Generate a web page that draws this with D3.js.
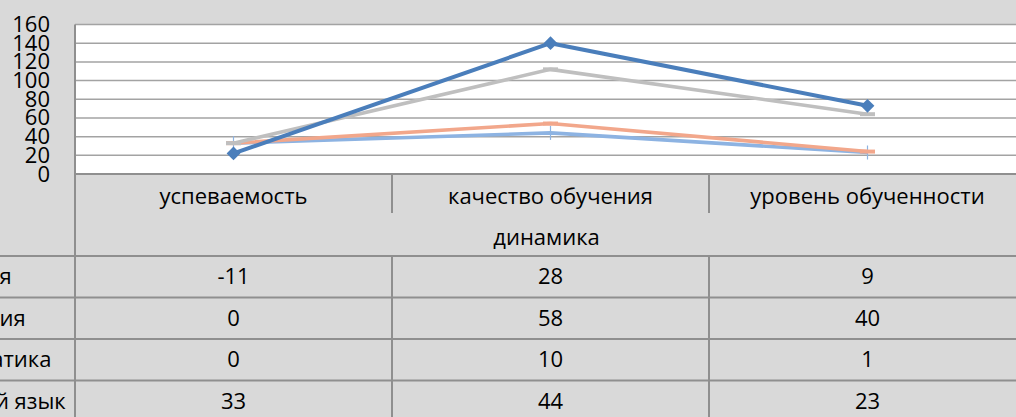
<!DOCTYPE html>
<html>
<head>
<meta charset="utf-8">
<script src="https://cdn.jsdelivr.net/npm/d3@7"></script>
<style>
  body { margin: 0; background: #d9d9d9; }
  svg { display: block; font-family: "Open Sans", "Noto Sans", sans-serif; }
</style>
</head>
<body>
<svg width="1016" height="417"></svg>
<script>
// chart data
const categories = ["успеваемость", "качество обучения", "уровень обученности"];
const axisTitle = "динамика";
const seriesNames = ["история", "биология", "математика", "русский язык"];
const historyVals = [-11, 28, 9];
const biologyVals = [0, 58, 40];
const mathsVals = [0, 10, 1];
const russianVals = [33, 44, 23];
const yTicks = [0, 20, 40, 60, 80, 100, 120, 140, 160];

const seriesValues = [historyVals, biologyVals, mathsVals, russianVals];
const colors = ["#4a7ebb", "#bfbfbf", "#f2a78b", "#8db3e2"];
const markers = ["diamond", "dash", "dash", "tick"];

const svg = d3.select("svg");
const W = 1016, H = 417;

const plot = {left: 75, right: 1026, top: 24.5, bottom: 174};
const rowH = 41.5;
const headH = 82;
const tableTop = plot.bottom;
const rowsTop = tableTop + headH;
const lineCol = "#8f8f8f";
const gridCol = "#a3a3a3";
const fontSize = 22;

svg.append("rect").attr("width", W).attr("height", H).attr("fill", "#d9d9d9");

const x = d3.scaleBand().domain(categories).range([plot.left, plot.right]);
const cx = c => x(c) + x.bandwidth() / 2;
const y = d3.scaleLinear().domain([0, 160]).range([plot.bottom, plot.top]);

// plot area
svg.append("rect")
    .attr("x", plot.left).attr("y", plot.top)
    .attr("width", plot.right - plot.left).attr("height", plot.bottom - plot.top)
    .attr("fill", "#fff");

svg.append("g").selectAll("line")
    .data(yTicks)
    .join("line")
        .attr("x1", plot.left).attr("x2", plot.right)
        .attr("y1", d => y(d)).attr("y2", d => y(d))
        .attr("stroke", gridCol)
        .attr("stroke-width", 1.5);

const yAxis = svg.append("g")
    .attr("transform", `translate(${plot.left},0)`)
    .call(d3.axisLeft(y).tickValues(yTicks).tickSize(0).tickPadding(25));
yAxis.select(".domain").remove();
yAxis.selectAll("text")
    .attr("font-size", fontSize)
    .attr("font-family", "Open Sans")
    .attr("fill", "#000");

// stacked series (last row at the bottom of the stack)
const table = categories.map((c, i) => {
    let row = {cat: c};
    seriesNames.forEach((s, j) => row[s] = seriesValues[j][i]);
    return row;
});
const stacked = d3.stack()
    .keys(seriesNames)
    .order(d3.stackOrderReverse)
    .offset(d3.stackOffsetNone)(table);

const line = d3.line()
    .x(d => cx(d.data.cat))
    .y(d => y(d[1]));

const drawOrder = [3, 2, 1, 0];
drawOrder.forEach(j => {
    const s = stacked[j];
    const g = svg.append("g");
    g.append("path")
        .datum(s)
        .attr("fill", "none")
        .attr("stroke", colors[j])
        .attr("stroke-width", j == 0 ? 4 : 3.6)
        .attr("stroke-linejoin", "round")
        .attr("d", line);

    if (markers[j] == "diamond"){
        g.selectAll("path.m")
            .data(s)
            .join("path")
                .attr("class", "m")
                .attr("d", d3.symbol(d3.symbolSquare, 95)())
                .attr("transform", d => `translate(${cx(d.data.cat)},${y(d[1])}) rotate(45)`)
                .attr("fill", colors[j]);
    }
    else if (markers[j] == "dash"){
        g.selectAll("line")
            .data(s)
            .join("line")
                .attr("x1", d => cx(d.data.cat) - 7.5)
                .attr("x2", d => cx(d.data.cat) + 7.5)
                .attr("y1", d => y(d[1])).attr("y2", d => y(d[1]))
                .attr("stroke", colors[j])
                .attr("stroke-width", 4);
    }
    else {
        g.selectAll("line")
            .data(s)
            .join("line")
                .attr("x1", d => cx(d.data.cat)).attr("x2", d => cx(d.data.cat))
                .attr("y1", d => y(d[1]) - 7).attr("y2", d => y(d[1]) + 7)
                .attr("stroke", colors[j])
                .attr("stroke-width", 1.2);
    }
});

// data table
const tl = svg.append("g").attr("stroke", lineCol).attr("stroke-width", 2);
tl.append("line")
    .attr("x1", plot.left).attr("x2", W)
    .attr("y1", tableTop).attr("y2", tableTop);
tl.append("line")
    .attr("x1", plot.left).attr("x2", plot.left)
    .attr("y1", plot.top).attr("y2", H);
tl.selectAll("line.sep")
    .data(categories.slice(1))
    .join("line")
        .attr("class", "sep")
        .attr("x1", d => x(d)).attr("x2", d => x(d))
        .attr("y1", tableTop).attr("y2", tableTop + 39);
tl.selectAll("line.row")
    .data(seriesNames)
    .join("line")
        .attr("class", "row")
        .attr("x1", 0).attr("x2", W)
        .attr("y1", (d, i) => rowsTop + i * rowH)
        .attr("y2", (d, i) => rowsTop + i * rowH);
tl.selectAll("line.col")
    .data(categories.slice(1))
    .join("line")
        .attr("class", "col")
        .attr("x1", d => x(d)).attr("x2", d => x(d))
        .attr("y1", rowsTop).attr("y2", H);

const tt = svg.append("g")
    .attr("font-size", fontSize)
    .attr("fill", "#000");

tt.selectAll("text.cat")
    .data(categories)
    .join("text")
        .attr("class", "cat")
        .attr("x", d => cx(d))
        .attr("y", tableTop + 30)
        .attr("text-anchor", "middle")
        .text(d => d);

tt.append("text")
    .attr("x", (plot.left + plot.right) / 2 - 4)
    .attr("y", tableTop + 71)
    .attr("text-anchor", "middle")
    .text(axisTitle);

// row labels: the label column starts left of the picture, so only the endings show
seriesNames.forEach((name, j) => {
    const ry = rowsTop + j * rowH + 28;
    tt.append("text")
        .attr("x", -76)
        .attr("y", ry)
        .text(name);
    tt.selectAll(null)
        .data(seriesValues[j])
        .join("text")
            .attr("x", (d, i) => cx(categories[i]))
            .attr("y", ry)
            .attr("text-anchor", "middle")
            .text(d => d);
});
</script>
</body>
</html>
